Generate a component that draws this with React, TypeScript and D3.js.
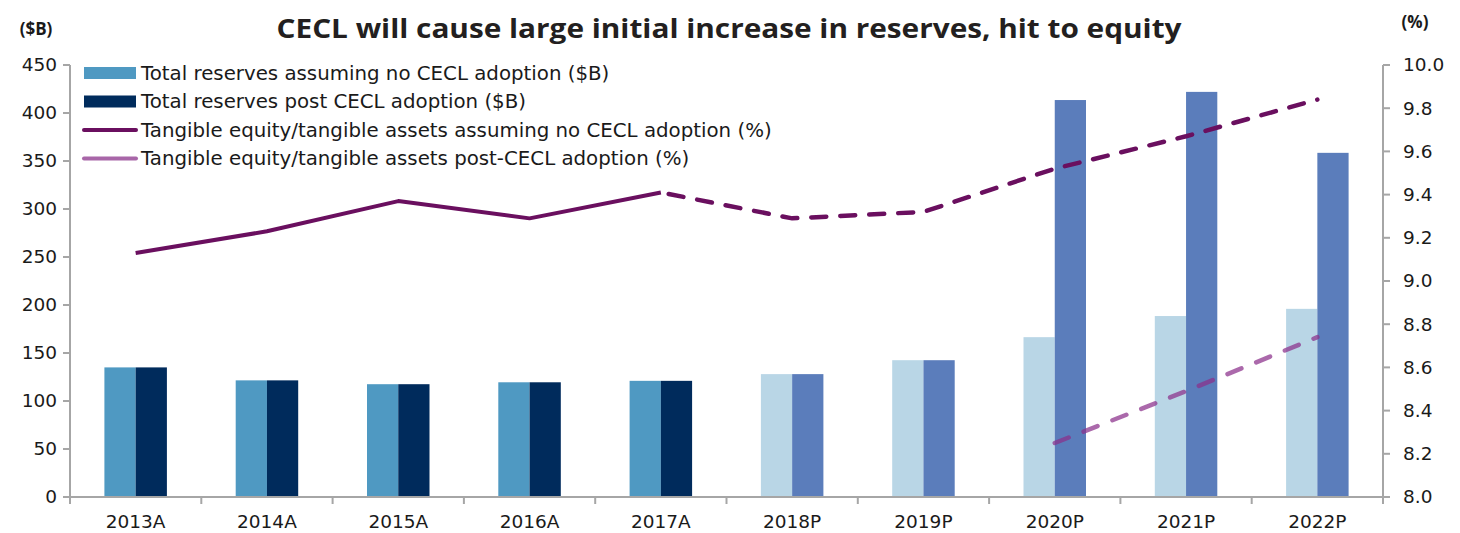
import React from 'react';
import * as d3 from 'd3';

const categories = ['2013A', '2014A', '2015A', '2016A', '2017A', '2018P', '2019P', '2020P', '2021P', '2022P'];
const reservesNoCecl = [135, 121.5, 117.5, 119.5, 121, 128, 142.5, 166.5, 188.5, 196];
const reservesPostCecl = [135, 121.5, 117.5, 119.5, 121, 128, 142.5, 413.5, 422, 358.5];
const teTaNoCecl = [9.13, 9.23, 9.37, 9.29, 9.41, 9.29, 9.32, 9.52, 9.67, 9.84];
const teTaPostCecl = [null, null, null, null, null, null, null, 8.25, 8.49, 8.74];
const actualCount = 5;
const leftTicks = [0, 50, 100, 150, 200, 250, 300, 350, 400, 450];
const rightTicks = [8.0, 8.2, 8.4, 8.6, 8.8, 9.0, 9.2, 9.4, 9.6, 9.8, 10.0];

const legendItems = [
  { label: 'Total reserves assuming no CECL adoption ($B)', kind: 'bar', color: '#4F99C2' },
  { label: 'Total reserves post CECL adoption ($B)', kind: 'bar', color: '#002B5C' },
  { label: 'Tangible equity/tangible assets assuming no CECL adoption (%)', kind: 'line', color: '#6A0F5F' },
  { label: 'Tangible equity/tangible assets post-CECL adoption (%)', kind: 'line', color: '#A866A8' },
];

const W = 1460;
const H = 533;
const margin = { top: 65, right: 77, bottom: 36, left: 70 };
const font = '"DejaVu Sans", "Open Sans", sans-serif';
const titleFont = '"Open Sans", Roboto, sans-serif';
const axisColor = '#A6A6A6';
const textColor = '#1a1a1a';

export default function App() {
  const x = d3.scaleBand().domain(categories).range([margin.left, W - margin.right]);
  const yL = d3.scaleLinear().domain([0, 450]).range([H - margin.bottom, margin.top]);
  const yR = d3.scaleLinear().domain([8, 10]).range([H - margin.bottom, margin.top]);
  const barW = x.bandwidth() * 0.238;
  const cx = (c: string) => (x(c) as number) + x.bandwidth() / 2;

  const lineGen = d3.line<[string, number]>().x(d => cx(d[0])).y(d => yR(d[1]));
  const solidPts: [string, number][] = categories.slice(0, actualCount).map((c, i) => [c, teTaNoCecl[i]]);
  const dashPts: [string, number][] = categories.slice(actualCount - 1).map((c, i) => [c, teTaNoCecl[i + actualCount - 1]]);
  const postPts: [string, number][] = categories
    .map((c, i) => [c, teTaPostCecl[i]] as [string, number | null])
    .filter(d => d[1] !== null) as [string, number][];

  const x0 = margin.left;
  const x1 = W - margin.right;
  const yb = H - margin.bottom;

  return (
    <svg width={W} height={H} style={{ position: 'absolute', left: 0, top: 0, background: '#fff' }} fontFamily={font}>
      <text x={729} y={38} textAnchor="middle" fontFamily={titleFont} fontSize={27} fontWeight={700} fill="#231F20"
        textLength={905} lengthAdjust="spacingAndGlyphs">
        CECL will cause large initial increase in reserves, hit to equity
      </text>
      <text x={36} y={35} textAnchor="middle" fontFamily={titleFont} fontSize={17} fontWeight={700} fill={textColor}>($B)</text>
      <text x={1415} y={28} textAnchor="middle" fontFamily={titleFont} fontSize={17} fontWeight={700} fill={textColor}>(%)</text>

      {/* bars */}
      {categories.map((c, i) => {
        const proj = i >= actualCount;
        return (
          <g key={c}>
            <rect x={cx(c) - barW} y={yL(reservesNoCecl[i])} width={barW} height={yb - yL(reservesNoCecl[i])}
              fill={proj ? '#B9D6E6' : '#4F99C2'} />
            <rect x={cx(c)} y={yL(reservesPostCecl[i])} width={barW} height={yb - yL(reservesPostCecl[i])}
              fill={proj ? '#5B7DBB' : '#002B5C'} />
          </g>
        );
      })}

      {/* lines */}
      <path d={lineGen(solidPts) || ''} fill="none" stroke="#6A0F5F" strokeWidth={4} strokeLinejoin="round" />
      <path d={lineGen(dashPts) || ''} fill="none" stroke="#6A0F5F" strokeWidth={4.5} strokeDasharray="15 14"
        strokeDashoffset={-8} strokeLinecap="round" />
      <path d={lineGen(postPts) || ''} fill="none" stroke="#8B2F8B" strokeOpacity={0.72} strokeWidth={4.5}
        strokeDasharray="15 16" strokeLinecap="round" />

      {/* left axis */}
      <line x1={x0} x2={x0} y1={margin.top} y2={yb} stroke={axisColor} strokeWidth={2} />
      {leftTicks.map(t => (
        <g key={t}>
          <line x1={x0 - 7} x2={x0} y1={yL(t)} y2={yL(t)} stroke={axisColor} strokeWidth={2} />
          <text x={57} y={yL(t)} dy="0.35em" textAnchor="end" fontSize={18.5} fill={textColor}>{t}</text>
        </g>
      ))}

      {/* right axis */}
      <line x1={x1} x2={x1} y1={margin.top} y2={yb} stroke={axisColor} strokeWidth={2} />
      {rightTicks.map(t => (
        <g key={t}>
          <line x1={x1} x2={x1 + 7} y1={yR(t)} y2={yR(t)} stroke={axisColor} strokeWidth={2} />
          <text x={1403} y={yR(t)} dy="0.35em" textAnchor="start" fontSize={18.5} fill={textColor}>{t.toFixed(1)}</text>
        </g>
      ))}

      {/* x axis */}
      <line x1={x0} x2={x1} y1={yb} y2={yb} stroke={axisColor} strokeWidth={2} />
      {categories.map(c => (
        <line key={'t' + c} x1={x(c) as number} x2={x(c) as number} y1={yb} y2={yb + 7} stroke={axisColor} strokeWidth={2} />
      ))}
      <line x1={x1} x2={x1} y1={yb} y2={yb + 7} stroke={axisColor} strokeWidth={2} />
      {categories.map(c => (
        <text key={'l' + c} x={cx(c)} y={522} dy="0.35em" textAnchor="middle" fontSize={18.5} fill={textColor}>{c}</text>
      ))}

      {/* legend */}
      {legendItems.map((item, i) => {
        const ly = 73 + i * 28.5;
        return (
          <g key={item.label}>
            {item.kind === 'bar'
              ? <rect x={84} y={ly - 6} width={52} height={12} fill={item.color} />
              : <line x1={84} x2={136} y1={ly} y2={ly} stroke={item.color} strokeWidth={4} strokeLinecap="round" />}
            <text x={141} y={ly} dy="0.35em" fontSize={19.8} fill={textColor}>{item.label}</text>
          </g>
        );
      })}
    </svg>
  );
}
